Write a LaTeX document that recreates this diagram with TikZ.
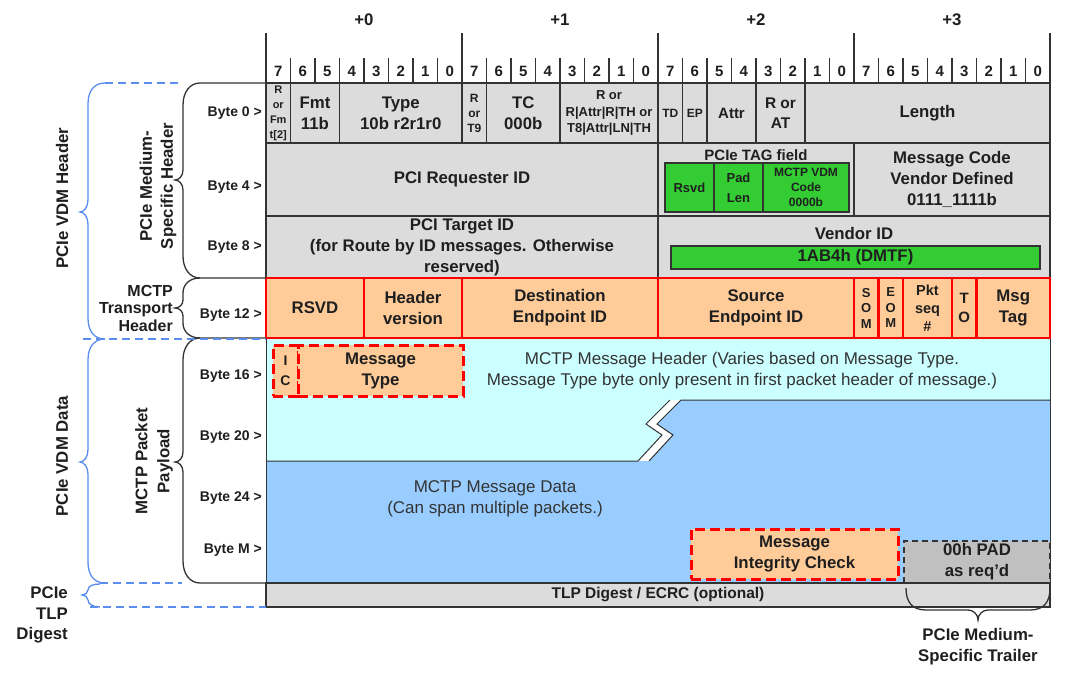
\documentclass[tikz,border=0pt]{standalone}
\usepackage{fontspec}
\setmainfont{Liberation Sans}
\usetikzlibrary{positioning}

\definecolor{cellgray}{HTML}{DCDCDC}
\definecolor{padgray}{HTML}{C0C0C0}
\definecolor{tagGreen}{HTML}{33CC33}
\definecolor{peach}{HTML}{FFCC99}
\definecolor{hdrCyan}{HTML}{CCFFFF}
\definecolor{dataBlue}{HTML}{99CCFF}
\definecolor{braceBlue}{HTML}{5B8DEF}
\definecolor{lineDark}{HTML}{333333}

\begin{document}
\begin{tikzpicture}[x=1pt,y=-1pt,
    every node/.style={inner sep=0pt, align=center, text=black!88},
    fieldtext/.style={font=\bfseries\fontsize{16.8}{21}\selectfont},
    midtext/.style={font=\bfseries\fontsize{14}{17}\selectfont},
    bittext/.style={font=\bfseries\fontsize{15}{17}\selectfont},
    smalltext/.style={font=\bfseries\fontsize{12}{15}\selectfont},
    plaintext/.style={font=\fontsize{17}{21}\selectfont, text=black!80},
    wh/.style 2 args={minimum width=#1pt, minimum height=#2pt},
    graycell/.style={draw=lineDark, line width=1.2pt, fill=cellgray, fieldtext},
    greencell/.style={draw=lineDark, line width=1.2pt, fill=tagGreen, smalltext},
    redcell/.style={draw=red, line width=2.8pt, fill=peach, fieldtext},
    dashcell/.style={draw=red, line width=3pt, dash pattern=on 10pt off 5pt, fill=peach, fieldtext},
    padcell/.style={draw=lineDark, line width=1.4pt, dash pattern=on 6pt off 4pt, fill=padgray, fieldtext},
    gridline/.style={draw=lineDark, line width=1.4pt},
    blackbrace/.style={draw=lineDark, line width=1.3pt},
    bluebrace/.style={draw=braceBlue, line width=1.3pt},
    bluedash/.style={draw=braceBlue, line width=1.3pt, dash pattern=on 8pt off 5pt},
  ]
  \useasboundingbox (0,0) rectangle (1080,678);

  % byte offsets and bit numbers
  \foreach \k in {0,...,3}{
    \node[fieldtext] (plus\k) at ({364+196*\k},20) {+\k};
  }
  \foreach \i in {0,...,31}{
    \pgfmathtruncatemacro{\bitno}{7-mod(\i,8)}
    \node[bittext] (bit\i) at ({278.25+24.5*\i},71) {\bitno};
  }
  \foreach \i in {1,...,31}{
    \draw[gridline] ({266+24.5*\i},58) -- ({266+24.5*\i},83);
  }
  \foreach \k in {0,...,4}{
    \draw[gridline, line width=1.7pt] ({266+196*\k},33) -- ({266+196*\k},83);
  }

  % byte 0
  \node[graycell, wh={24.5}{60}, font=\bfseries\fontsize{11}{15}\selectfont] (rfmt) at (278.25,113) {R\\or\\Fm\\t[2]};
  \node[graycell, wh={49}{60}] (fmt) at (315,113) {Fmt\\11b};
  \node[graycell, wh={122.5}{60}] (type) at (400.75,113) {Type\\10b r2r1r0};
  \node[graycell, wh={24.5}{60}, smalltext] (rt9) at (474.25,113) {R\\or\\T9};
  \node[graycell, wh={73.5}{60}] (tc) at (523.25,113) {TC\\000b};
  \node[graycell, wh={98}{60}, font=\bfseries\fontsize{13}{16.5}\selectfont] (rattr) at (609,113) {R or\\R|Attr|R|TH or\\T8|Attr|LN|TH};
  \node[graycell, wh={24.5}{60}, smalltext] (td) at (670.25,113) {TD};
  \node[graycell, wh={24.5}{60}, smalltext] (ep) at (694.75,113) {EP};
  \node[graycell, wh={49}{60}, font=\bfseries\fontsize{15}{20}\selectfont] (attr) at (731.5,113) {Attr};
  \node[graycell, wh={49}{60}, font=\bfseries\fontsize{15.5}{20}\selectfont] (rat) at (780.5,113) {R or\\AT};
  \node[graycell, wh={245}{60}] (length) at (927.5,113) {Length};

  % byte 4
  \node[graycell, wh={392}{73}] (reqid) at (462,179.5) {PCI Requester ID};
  \node[graycell, wh={196}{73}] (tagfield) at (756,179.5) {};
  \node[fieldtext, font=\bfseries\fontsize{15}{18}\selectfont] (taglbl) at (756,155) {PCIe TAG field};
  \node[greencell, wh={49}{49}, font=\bfseries\fontsize{13}{16}\selectfont] (rsvdtag) at (689.5,187.5) {Rsvd};
  \node[greencell, wh={49}{49}, font=\bfseries\fontsize{13}{20}\selectfont] (padlen) at (738.5,187.5) {Pad\\Len};
  \node[greencell, wh={86}{49}] (vdmcode) at (806,187.5) {MCTP VDM\\Code\\0000b};
  \node[graycell, wh={196}{73}] (msgcode) at (952,179.5) {Message Code\\Vendor Defined\\0111\_1111b};

  % byte 8
  \node[graycell, wh={392}{62}] (targetid) at (462,247) {PCI Target ID\\(for Route by ID messages. Otherwise\\reserved)};
  \node[graycell, wh={392}{62}] (vendorid) at (854,247) {};
  \node[fieldtext] (vendorlbl) at (854,233) {Vendor ID};
  \node[greencell, wh={369}{23}, fieldtext] (dmtf) at (855.5,257.5) {1AB4h (DMTF)};

  % payload background
  \fill[hdrCyan] (266,338) -- (1050,338) -- (1050,400) -- (670,400) -- (646,424)
    -- (662,435) -- (638,461) -- (266,461) -- cycle;
  \fill[dataBlue] (681,400) -- (1050,400) -- (1050,583) -- (266,583) -- (266,461)
    -- (649,461) -- (673,435) -- (657,424) -- cycle;
  \draw[gridline, line width=1pt] (266,338) -- (266,583);
  \draw[gridline, line width=1pt] (1050,338) -- (1050,583);
  \draw[gridline, line width=1pt] (1050,400) -- (681,400) -- (657,424) -- (673,435) -- (649,461);
  \draw[gridline, line width=1pt] (670,400) -- (646,424) -- (662,435) -- (638,461) -- (266,461);

  % byte 12
  \node[redcell, wh={98}{60}] (rsvd) at (315,308) {RSVD};
  \node[redcell, wh={98}{60}] (hdrver) at (413,308) {Header\\version};
  \node[redcell, wh={196}{60}] (dstid) at (560,308) {Destination\\Endpoint ID};
  \node[redcell, wh={196}{60}] (srcid) at (756,308) {Source\\Endpoint ID};
  \node[redcell, wh={24.5}{60}, font=\bfseries\fontsize{13}{15.5}\selectfont] (som) at (866.25,308) {S\\O\\M};
  \node[redcell, wh={24.5}{60}, font=\bfseries\fontsize{13}{15.5}\selectfont] (eom) at (890.75,308) {E\\O\\M};
  \node[redcell, wh={49}{60}, font=\bfseries\fontsize{14.5}{18}\selectfont] (pktseq) at (927.5,308) {Pkt\\seq\\\#};
  \node[redcell, wh={24.5}{60}, font=\bfseries\fontsize{15}{19}\selectfont] (tobit) at (964.25,308) {T\\O};
  \node[redcell, wh={73.5}{60}] (msgtag) at (1013.25,308) {Msg\\Tag};

  % byte 16 .. byte M
  \node[dashcell, wh={25}{51}, font=\bfseries\fontsize{14}{20}\selectfont] (icbit) at (285.5,370.5) {I\\C};
  \node[dashcell, wh={165}{51}] (msgtype) at (380.5,370.5) {Message\\Type};
  \node[plaintext] (msghdr) at (742,370.5) {MCTP Message Header (Varies based on Message Type.\\Message Type byte only present in first packet header of message.)};
  \node[plaintext] (msgdata) at (495,499) {MCTP Message Data\\(Can span multiple packets.)};
  \node[dashcell, wh={207}{50}] (mic) at (794.5,554) {Message\\Integrity Check};
  \node[padcell, wh={146}{42}] (pad) at (977,562) {00h PAD\\as req'd};

  % digest
  \node[graycell, wh={784}{24}, font=\bfseries\fontsize{15.5}{18}\selectfont] (digest) at (658,595) {TLP Digest / ECRC (optional)};

  % trailer brace
  \draw[blackbrace] (906,588) .. controls (906,602) and (912,610) .. (926,610) -- (968,610)
    .. controls (973,610) and (978,614) .. (978,620) .. controls (978,614) and (983,610) .. (988,610)
    -- (1030,610) .. controls (1044,610) and (1050,602) .. (1050,588);
  \node[fieldtext] (trailer) at (978,647) {PCIe Medium-\\Specific Trailer};

  % row labels
  \node[midtext, anchor=east] (lbl0) at (262,113) {Byte 0 >};
  \node[midtext, anchor=east] (lbl4) at (262,187) {Byte 4 >};
  \node[midtext, anchor=east] (lbl8) at (262,247) {Byte 8 >};
  \node[midtext, anchor=east] (lbl12) at (262,315) {Byte 12 >};
  \node[midtext, anchor=east] (lbl16) at (262,376) {Byte 16 >};
  \node[midtext, anchor=east] (lbl20) at (262,437) {Byte 20 >};
  \node[midtext, anchor=east] (lbl24) at (262,498) {Byte 24 >};
  \node[midtext, anchor=east] (lblM) at (262,550) {Byte M >};

  % black braces
  \draw[blackbrace] (266,83) -- (200,83) .. controls (190,83) and (183,92) .. (183,105) -- (183,170)
    .. controls (183,176) and (179,180) .. (175,180) .. controls (179,180) and (183,184) .. (183,190)
    -- (183,256) .. controls (183,269) and (190,278) .. (200,278) -- (266,278);
  \draw[blackbrace] (200,278) .. controls (190,278) and (183,284) .. (183,293) -- (183,300)
    .. controls (183,305) and (179,308) .. (175,308) .. controls (179,308) and (183,311) .. (183,316)
    -- (183,323) .. controls (183,332) and (190,338) .. (200,338) -- (266,338);
  \draw[blackbrace] (200,338) .. controls (190,338) and (183,347) .. (183,360) -- (183,452)
    .. controls (183,458) and (179,462) .. (175,462) .. controls (179,462) and (183,466) .. (183,472)
    -- (183,561) .. controls (183,574) and (190,583) .. (200,583) -- (266,583);
  \node[fieldtext, rotate=90] (medhdr) at (158,186) {PCIe Medium-\\Specific Header};
  \node[fieldtext, anchor=east, align=right, font=\bfseries\fontsize{16}{17.5}\selectfont] (transport) at (173,308) {MCTP\\Transport\\Header};
  \node[fieldtext, rotate=90, font=\bfseries\fontsize{16.8}{22}\selectfont] (payload) at (154,461) {MCTP Packet\\Payload};

  % blue braces
  \draw[bluedash] (105,83) -- (182,83);
  \draw[bluedash] (83,339) -- (266,339);
  \draw[bluedash] (100,583) -- (182,583);
  \draw[bluedash] (90,607) -- (266,607);
  \draw[bluebrace] (105,83) .. controls (94,83) and (88,91) .. (88,104) -- (88,200)
    .. controls (88,207) and (84,212) .. (80,212) .. controls (84,212) and (88,217) .. (88,224)
    -- (88,318) .. controls (88,331) and (94,339) .. (105,339);
  \draw[bluebrace] (105,339) .. controls (94,339) and (88,347) .. (88,360) -- (88,450)
    .. controls (88,457) and (84,462) .. (80,462) .. controls (84,462) and (88,467) .. (88,474)
    -- (88,562) .. controls (88,575) and (94,583) .. (105,583);
  \draw[bluebrace] (100,584) .. controls (93,584) and (88,586) .. (88,590)
    .. controls (88,593) and (85,595) .. (82,595) .. controls (85,595) and (88,597) .. (88,600)
    .. controls (88,604) and (93,607) .. (100,607);
  \node[fieldtext, rotate=90] (vdmhdr) at (62,198) {PCIe VDM Header};
  \node[fieldtext, rotate=90] (vdmdata) at (62,456) {PCIe VDM Data};
  \node[fieldtext, anchor=east, align=right, font=\bfseries\fontsize{16.8}{20.5}\selectfont] (tlpdigest) at (68,615) {PCIe\\TLP\\Digest};
\end{tikzpicture}
\end{document}
